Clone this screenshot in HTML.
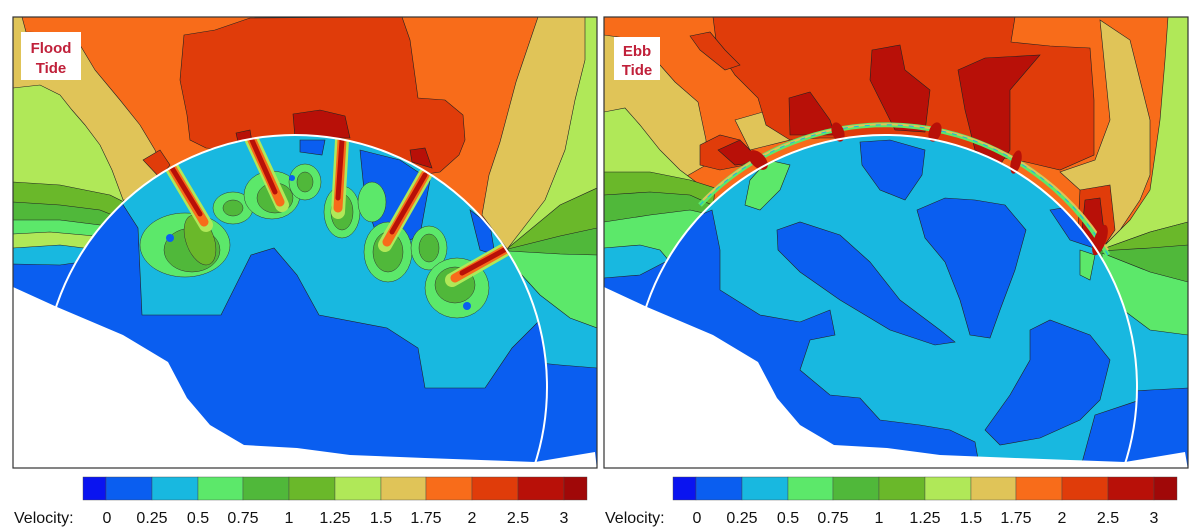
<!DOCTYPE html>
<html><head><meta charset="utf-8"><style>
html,body{margin:0;padding:0;background:#fff;width:1192px;height:530px;overflow:hidden}
svg{display:block;position:absolute;left:0;top:0}
text{font-family:"Liberation Sans",sans-serif}
</style></head><body>
<svg width="1192" height="530" viewBox="0 0 1192 530" xmlns="http://www.w3.org/2000/svg">
<defs>
<clipPath id="cl"><rect x="13" y="17" width="584" height="451"/></clipPath>
<clipPath id="cr"><rect x="604" y="17" width="584" height="451"/></clipPath>
<clipPath id="ccl"><circle cx="295" cy="387" r="252"/></clipPath>
<clipPath id="ccr"><circle cx="885" cy="387" r="252"/></clipPath>
</defs>

<!-- ================= LEFT PANEL ================= -->
<g clip-path="url(#cl)" stroke="#222" stroke-width="0.6">
<rect x="13" y="17" width="584" height="451" fill="#f86c1a" stroke="none"/>
<path fill="#e0c458" d="M13,17 L22,17 L26,32 L60,33 L80,45 L95,70 L120,100 L140,125 L155,150 L165,175 L170,200 L13,200 Z"/>
<path fill="#b0e858" d="M13,88 L40,85 L60,95 L72,110 L85,125 L100,145 L112,170 L125,205 L13,215 Z"/>
<path fill="#6ab82a" d="M13,182 L60,185 L110,195 L140,210 L140,260 L13,260 Z"/>
<path fill="#50b83a" d="M13,202 L60,205 L100,210 L130,222 L130,260 L13,260 Z"/>
<path fill="#5ce86a" d="M13,220 L60,220 L100,225 L120,232 L120,260 L13,260 Z"/>
<path fill="#b0e858" d="M13,234 L50,232 L95,236 L110,240 L110,260 L13,260 Z"/>
<path fill="#18b8e0" d="M13,248 L60,245 L100,250 L110,262 L60,270 L13,268 Z"/>
<path fill="#0a5ef0" d="M13,264 L60,265 L110,258 L140,280 L140,470 L13,470 Z"/>
<!-- right side -->
<path fill="#e0c458" d="M538,17 L597,17 L597,260 L508,250 L482,215 L489,175 L500,142 L516,82 Z"/>
<path fill="#b0e858" d="M585,17 L597,17 L597,200 L560,215 L540,235 L508,248 L545,200 L565,150 L575,100 L585,60 Z"/>
<path fill="#6ab82a" d="M508,248 L560,205 L597,188 L597,470 L508,470 Z"/>
<path fill="#50b83a" d="M508,249 L560,236 L597,228 L597,470 L508,470 Z"/>
<path fill="#5ce86a" d="M508,251 L560,254 L597,255 L597,470 L508,470 Z"/>
<path fill="#18b8e0" d="M510,262 L540,295 L570,318 L597,328 L597,470 L510,470 Z"/>
<path fill="#0a5ef0" d="M530,362 L560,365 L597,368 L597,470 L530,470 Z"/>
<!-- red top -->
<path fill="#e03c0a" d="M184,35 L215,30 L250,18 L402,17 L410,40 L418,98 L445,100 L463,115 L465,140 L459,155 L440,172 L420,175 L330,150 L230,150 L206,148 L190,140 L187,115 L180,80 Z"/>
<path fill="#e03c0a" d="M143,160 L160,150 L170,165 L160,178 Z"/>
<path fill="#b81008" d="M293,114 L320,110 L345,116 L350,138 L295,138 Z"/>
<path fill="#b81008" d="M236,133 L250,130 L252,142 L238,142 Z"/>
<path fill="#b81008" d="M410,150 L425,148 L432,168 L412,162 Z"/>

<g clip-path="url(#ccl)">
<rect x="30" y="120" width="540" height="360" fill="#0a5ef0" stroke="none"/>
<path fill="#18b8e0" d="M120,200 L180,160 L250,135 L340,135 L420,165 L460,190 L500,230 L520,270 L540,320 L535,325 L512,348 L485,388 L425,388 L418,348 L387,328 L319,315 L297,275 L274,248 L251,255 L221,315 L142,315 L138,228 Z"/>
<path fill="#0a5ef0" d="M300,140 L325,140 L322,155 L300,152 Z"/>
<path fill="#0a5ef0" d="M360,150 L400,160 L430,180 L420,235 L400,245 L375,230 L365,200 Z"/>
<path fill="#0a5ef0" d="M470,210 L490,225 L495,255 L480,250 Z"/>
<g stroke="#333" stroke-width="0.5">
<ellipse cx="185" cy="245" rx="45" ry="32" fill="#5ce86a"/>
<ellipse cx="192" cy="250" rx="28" ry="22" fill="#50b83a"/>
<ellipse cx="200" cy="240" rx="14" ry="26" fill="#6ab82a" transform="rotate(-20 200 240)"/>
<ellipse cx="233" cy="208" rx="20" ry="16" fill="#5ce86a"/>
<ellipse cx="233" cy="208" rx="10" ry="8" fill="#50b83a"/>
<ellipse cx="272" cy="195" rx="28" ry="24" fill="#5ce86a"/>
<ellipse cx="275" cy="198" rx="18" ry="15" fill="#50b83a"/>
<ellipse cx="305" cy="182" rx="16" ry="18" fill="#5ce86a"/>
<ellipse cx="305" cy="182" rx="8" ry="10" fill="#50b83a"/>
<ellipse cx="342" cy="212" rx="18" ry="26" fill="#5ce86a"/>
<ellipse cx="342" cy="212" rx="11" ry="18" fill="#50b83a"/>
<ellipse cx="372" cy="202" rx="14" ry="20" fill="#5ce86a"/>
<ellipse cx="388" cy="252" rx="24" ry="30" fill="#5ce86a"/>
<ellipse cx="388" cy="252" rx="15" ry="20" fill="#50b83a"/>
<ellipse cx="429" cy="248" rx="18" ry="22" fill="#5ce86a"/>
<ellipse cx="429" cy="248" rx="10" ry="14" fill="#50b83a"/>
<ellipse cx="457" cy="288" rx="32" ry="30" fill="#5ce86a"/>
<ellipse cx="455" cy="285" rx="20" ry="18" fill="#50b83a"/>
</g>
<ellipse cx="170" cy="238" rx="4" ry="4" fill="#0a5ef0" stroke="none"/>
<ellipse cx="467" cy="306" rx="4" ry="4" fill="#0a5ef0" stroke="none"/>
<ellipse cx="292" cy="178" rx="3" ry="3" fill="#0a5ef0" stroke="none"/>
<g stroke-linecap="round" fill="none">
<line x1="172" y1="168" x2="206" y2="225" stroke="#b0e858" stroke-width="14"/>
<line x1="172" y1="168" x2="204" y2="222" stroke="#f86c1a" stroke-width="9"/>
<line x1="172" y1="168" x2="200" y2="214" stroke="#b81008" stroke-width="5"/>
<line x1="251" y1="138" x2="282" y2="205" stroke="#b0e858" stroke-width="14"/>
<line x1="251" y1="138" x2="280" y2="202" stroke="#f86c1a" stroke-width="9"/>
<line x1="251" y1="138" x2="275" y2="192" stroke="#b81008" stroke-width="5"/>
<line x1="342" y1="140" x2="338" y2="212" stroke="#b0e858" stroke-width="14"/>
<line x1="342" y1="140" x2="338" y2="208" stroke="#f86c1a" stroke-width="9"/>
<line x1="342" y1="140" x2="338" y2="198" stroke="#b81008" stroke-width="5"/>
<line x1="425" y1="175" x2="385" y2="245" stroke="#b0e858" stroke-width="14"/>
<line x1="425" y1="175" x2="387" y2="242" stroke="#f86c1a" stroke-width="9"/>
<line x1="425" y1="175" x2="392" y2="232" stroke="#b81008" stroke-width="5"/>
<line x1="508" y1="248" x2="452" y2="280" stroke="#b0e858" stroke-width="14"/>
<line x1="508" y1="248" x2="455" y2="278" stroke="#f86c1a" stroke-width="9"/>
<line x1="508" y1="248" x2="462" y2="273" stroke="#b81008" stroke-width="5"/>
</g>
</g>
<path fill="#fff" stroke="none" d="M13,287 L57,307 L123,335 L168,362 L187,398 L210,425 L244,445 L297,448 L350,455 L425,458 L535,462 L595,452 L597,470 L13,470 Z"/>
<circle cx="295" cy="387" r="252" fill="none" stroke="#fff" stroke-width="2"/>
</g>
<rect x="13" y="17" width="584" height="451" fill="none" stroke="#333" stroke-width="1.2"/>
<rect x="21" y="32" width="60" height="48" fill="#fff"/>
<text x="51" y="53" font-size="15" font-weight="bold" fill="#c0203a" text-anchor="middle">Flood</text>
<text x="51" y="73" font-size="15" font-weight="bold" fill="#c0203a" text-anchor="middle">Tide</text>

<!-- ================= RIGHT PANEL ================= -->
<g clip-path="url(#cr)" stroke="#222" stroke-width="0.6">
<rect x="604" y="17" width="584" height="451" fill="#f86c1a" stroke="none"/>
<path fill="#e0c458" d="M604,35 L640,40 L660,65 L675,82 L698,102 L706,140 L706,165 L680,180 L604,180 Z"/>
<path fill="#b0e858" d="M604,112 L625,108 L640,125 L660,150 L680,170 L700,185 L604,190 Z"/>
<path fill="#6ab82a" d="M604,172 L650,172 L690,180 L715,188 L710,240 L604,240 Z"/>
<path fill="#50b83a" d="M604,195 L650,192 L690,195 L712,205 L710,240 L604,240 Z"/>
<path fill="#5ce86a" d="M604,222 L650,215 L690,210 L712,215 L712,260 L604,260 Z"/>
<path fill="#18b8e0" d="M604,248 L640,245 L660,250 L670,262 L640,278 L604,280 Z"/>
<path fill="#0a5ef0" d="M604,278 L640,275 L665,262 L680,290 L680,470 L604,470 Z"/>
<!-- right side -->
<path fill="#e0c458" d="M1100,20 L1130,40 L1140,80 L1150,120 L1150,175 L1140,200 L1120,230 L1100,250 L1080,190 L1060,172 L1095,160 L1110,120 Z"/>
<path fill="#b0e858" d="M1168,17 L1188,17 L1188,222 L1150,232 L1100,250 L1130,220 L1150,190 L1160,120 L1165,60 Z"/>
<path fill="#6ab82a" d="M1100,250 L1150,232 L1188,222 L1188,470 L1100,470 Z"/>
<path fill="#50b83a" d="M1100,251 L1150,248 L1188,245 L1188,470 L1100,470 Z"/>
<path fill="#5ce86a" d="M1102,253 L1150,272 L1188,282 L1188,470 L1102,470 Z"/>
<path fill="#18b8e0" d="M1110,300 L1150,330 L1188,335 L1188,470 L1110,470 Z"/>
<path fill="#0a5ef0" d="M1120,392 L1150,390 L1188,388 L1188,470 L1120,470 Z"/>
<!-- red -->
<path fill="#e0c458" d="M735,120 L770,110 L790,140 L750,150 Z"/>
<path fill="#e03c0a" d="M713,17 L1015,17 L1011,42 L1050,46 L1090,48 L1094,100 L1094,155 L1060,170 L1026,162 L960,150 L880,138 L820,138 L790,140 L766,125 L758,98 L735,75 L717,48 Z"/>
<path fill="#e03c0a" d="M690,36 L710,32 L725,50 L740,65 L725,70 L700,50 Z"/>
<path fill="#e03c0a" d="M700,145 L720,135 L740,140 L745,165 L720,170 L700,165 Z"/>
<path fill="#e03c0a" d="M1080,190 L1110,185 L1115,230 L1100,252 L1078,230 Z"/>
<path fill="#b81008" d="M789,98 L810,92 L830,120 L835,135 L790,135 Z"/>
<path fill="#b81008" d="M872,50 L900,45 L905,70 L930,90 L925,132 L895,130 L880,100 L870,80 Z"/>
<path fill="#b81008" d="M958,70 L985,58 L1040,55 L1010,90 L1010,150 L1000,165 L975,150 L965,110 Z"/>
<path fill="#b81008" d="M1085,200 L1100,198 L1105,240 L1095,250 L1082,230 Z"/>
<path fill="#b81008" d="M718,150 L740,140 L762,162 L735,165 Z"/>
<g clip-path="url(#ccr)">
<rect x="620" y="120" width="540" height="360" fill="#18b8e0" stroke="none"/>
<path fill="#0a5ef0" d="M640,240 L700,215 L712,210 L720,250 L720,290 L760,315 L800,322 L830,310 L835,335 L810,340 L800,370 L830,395 L860,398 L880,420 L920,425 L950,430 L975,442 L980,470 L620,470 L620,250 Z"/>
<path fill="#0a5ef0" d="M777,230 L800,222 L840,235 L870,262 L900,300 L940,330 L955,342 L935,345 L890,330 L840,300 L800,272 L778,250 Z"/>
<path fill="#0a5ef0" d="M860,142 L890,140 L925,150 L922,175 L905,200 L880,190 L862,165 Z"/>
<path fill="#0a5ef0" d="M917,210 L945,198 L975,200 L1005,205 L1026,230 L1015,270 L1000,310 L990,338 L970,335 L960,300 L945,262 L925,238 Z"/>
<path fill="#0a5ef0" d="M1050,210 L1080,205 L1100,250 L1070,240 Z"/>
<path fill="#0a5ef0" d="M1030,330 L1050,320 L1090,335 L1110,360 L1100,400 L1080,420 L1040,438 L1000,445 L985,430 L1010,395 L1030,360 Z"/>
<path fill="#0a5ef0" d="M1095,415 L1140,400 L1140,470 L1080,470 Z"/>
<path fill="#5ce86a" d="M768,160 L790,165 L780,190 L760,210 L745,205 L750,180 Z"/>
<path fill="#5ce86a" d="M1080,250 L1095,255 L1090,280 L1080,275 Z"/>
</g>
<path d="M700,205 A255,255 0 0 1 1108,255" fill="none" stroke="#5ce86a" stroke-width="5"/>
<path d="M703,200 A259,259 0 0 1 1108,250" fill="none" stroke="#e0c458" stroke-width="2"/>
<path d="M700,205 A255,255 0 0 1 1108,255" fill="none" stroke="#18b8e0" stroke-width="1" stroke-dasharray="5 6"/>
<g stroke="none" fill="#b81008">
<ellipse cx="758" cy="160" rx="7" ry="12" transform="rotate(-45 758 160)"/>
<ellipse cx="838" cy="132" rx="6" ry="10" transform="rotate(-20 838 132)"/>
<ellipse cx="935" cy="132" rx="6" ry="10" transform="rotate(20 935 132)"/>
<ellipse cx="1016" cy="162" rx="5" ry="12" transform="rotate(15 1016 162)"/>
<ellipse cx="1100" cy="240" rx="6" ry="16" transform="rotate(20 1100 240)"/>
</g>
<path fill="#fff" stroke="none" d="M604,287 L647,307 L713,335 L758,362 L777,398 L800,425 L834,445 L887,448 L940,455 L1015,458 L1125,462 L1185,452 L1188,470 L604,470 Z"/>
<circle cx="885" cy="387" r="252" fill="none" stroke="#fff" stroke-width="2"/>
</g>
<rect x="604" y="17" width="584" height="451" fill="none" stroke="#333" stroke-width="1.2"/>
<rect x="614" y="37" width="46" height="43" fill="#fff"/>
<text x="637" y="56" font-size="15" font-weight="bold" fill="#c0203a" text-anchor="middle">Ebb</text>
<text x="637" y="75" font-size="15" font-weight="bold" fill="#c0203a" text-anchor="middle">Tide</text>

<!-- ================= COLORBARS ================= -->
<g id="cb" stroke="#444" stroke-width="0.4">
<rect x="83" y="477" width="23" height="23" fill="#0a14f0"/>
<rect x="106" y="477" width="46" height="23" fill="#0a5ef0"/>
<rect x="152" y="477" width="46" height="23" fill="#18b8e0"/>
<rect x="198" y="477" width="45" height="23" fill="#5ce86a"/>
<rect x="243" y="477" width="46" height="23" fill="#50b83a"/>
<rect x="289" y="477" width="46" height="23" fill="#6ab82a"/>
<rect x="335" y="477" width="46" height="23" fill="#b0e858"/>
<rect x="381" y="477" width="45" height="23" fill="#e0c458"/>
<rect x="426" y="477" width="46" height="23" fill="#f86c1a"/>
<rect x="472" y="477" width="46" height="23" fill="#e03c0a"/>
<rect x="518" y="477" width="46" height="23" fill="#b81008"/>
<rect x="564" y="477" width="23" height="23" fill="#a00808"/>
</g>
<g font-size="16" fill="#111" text-anchor="middle">
<text x="14" y="523" text-anchor="start">Velocity:</text>
<text x="107" y="523">0</text><text x="152" y="523">0.25</text><text x="198" y="523">0.5</text><text x="243" y="523">0.75</text><text x="289" y="523">1</text><text x="335" y="523">1.25</text><text x="381" y="523">1.5</text><text x="426" y="523">1.75</text><text x="472" y="523">2</text><text x="518" y="523">2.5</text><text x="564" y="523">3</text>
</g>
<use href="#cb" x="590" y="0"/>
<g font-size="16" fill="#111" text-anchor="middle">
<text x="605" y="523" text-anchor="start">Velocity:</text>
<text x="697" y="523">0</text><text x="742" y="523">0.25</text><text x="788" y="523">0.5</text><text x="833" y="523">0.75</text><text x="879" y="523">1</text><text x="925" y="523">1.25</text><text x="971" y="523">1.5</text><text x="1016" y="523">1.75</text><text x="1062" y="523">2</text><text x="1108" y="523">2.5</text><text x="1154" y="523">3</text>
</g>
</svg>
</body></html>
